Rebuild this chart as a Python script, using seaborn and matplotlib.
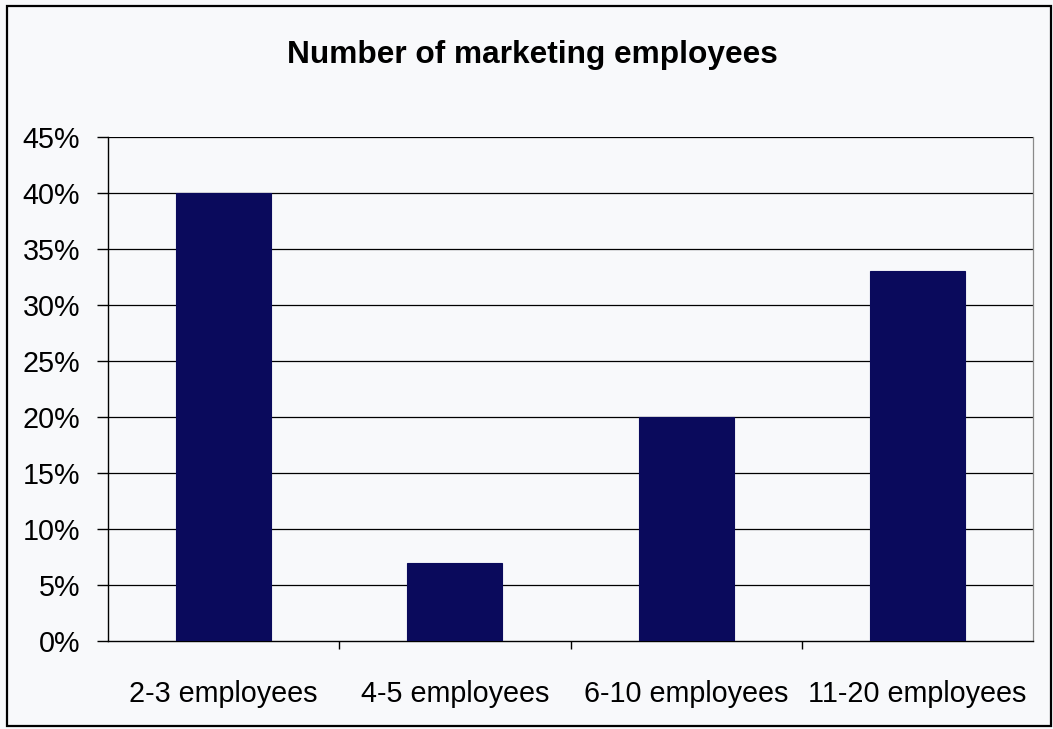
import matplotlib
matplotlib.use("Agg")
import matplotlib.pyplot as plt
from matplotlib.patches import Rectangle
from matplotlib.ticker import FixedLocator, PercentFormatter
import seaborn as sns
import pandas as pd

# Share of companies by size of their marketing team
categories = ["2-3 employees", "4-5 employees", "6-10 employees", "11-20 employees"]
shares = [40, 7, 20, 33]
y_ticks = [0, 5, 10, 15, 20, 25, 30, 35, 40, 45]

df = pd.DataFrame({"group": categories, "share": shares})

sns.set_theme(style="white")
plt.rcParams["font.family"] = ["Liberation Sans", "DejaVu Sans"]

bg = "#f8f9fb"
bar_color = "#0a0a5c"

fig = plt.figure(figsize=(10.53, 7.29), dpi=100, facecolor=bg)
ax = fig.add_axes([108 / 1053, 88 / 729, 925 / 1053, 504 / 729])
ax.set_facecolor(bg)

sns.barplot(data=df, x="group", y="share", order=categories, color=bar_color,
            saturation=1, width=0.41, ax=ax, zorder=3,
            edgecolor=bar_color, linewidth=0.8)

ax.set_xlim(-0.5, len(categories) - 0.5)
ax.set_ylim(0, 45)
ax.set_yticks(y_ticks)
ax.yaxis.set_major_formatter(PercentFormatter(decimals=0))
ax.set_xlabel("")
ax.set_ylabel("")

# horizontal gridlines at every 5%
for v in y_ticks[1:]:
    ax.axhline(v, color="black", linewidth=0.9, zorder=1)

# category separators as small outward ticks on the x axis
ax.xaxis.set_minor_locator(FixedLocator([0.5, 1.5, 2.5]))
ax.tick_params(axis="x", which="major", length=0, pad=28, labelsize=20.7, colors="black")
ax.tick_params(axis="x", which="minor", bottom=True, length=6, width=1, color="black")
ax.tick_params(axis="y", which="major", left=True, length=8, width=1, pad=12,
               labelsize=20.7, colors="black")

for side in ["left", "bottom"]:
    ax.spines[side].set_visible(True)
    ax.spines[side].set_color("black")
    ax.spines[side].set_linewidth(1.0)
ax.spines["top"].set_visible(False)
ax.spines["right"].set_visible(True)
ax.spines["right"].set_color("#8a8a8a")
ax.spines["right"].set_linewidth(0.9)

fig.text(532 / 1053, 1 - 55 / 729, "Number of marketing employees",
         ha="center", va="center", fontsize=22.8, fontweight="bold", color="black")

# frame around the whole chart
fig.patches.append(Rectangle((7 / 1053, 3 / 729), 1044 / 1053, 720 / 729,
                             transform=fig.transFigure, fill=False,
                             edgecolor="black", linewidth=1.6))

fig.savefig("out.png", dpi=100, facecolor=bg)
